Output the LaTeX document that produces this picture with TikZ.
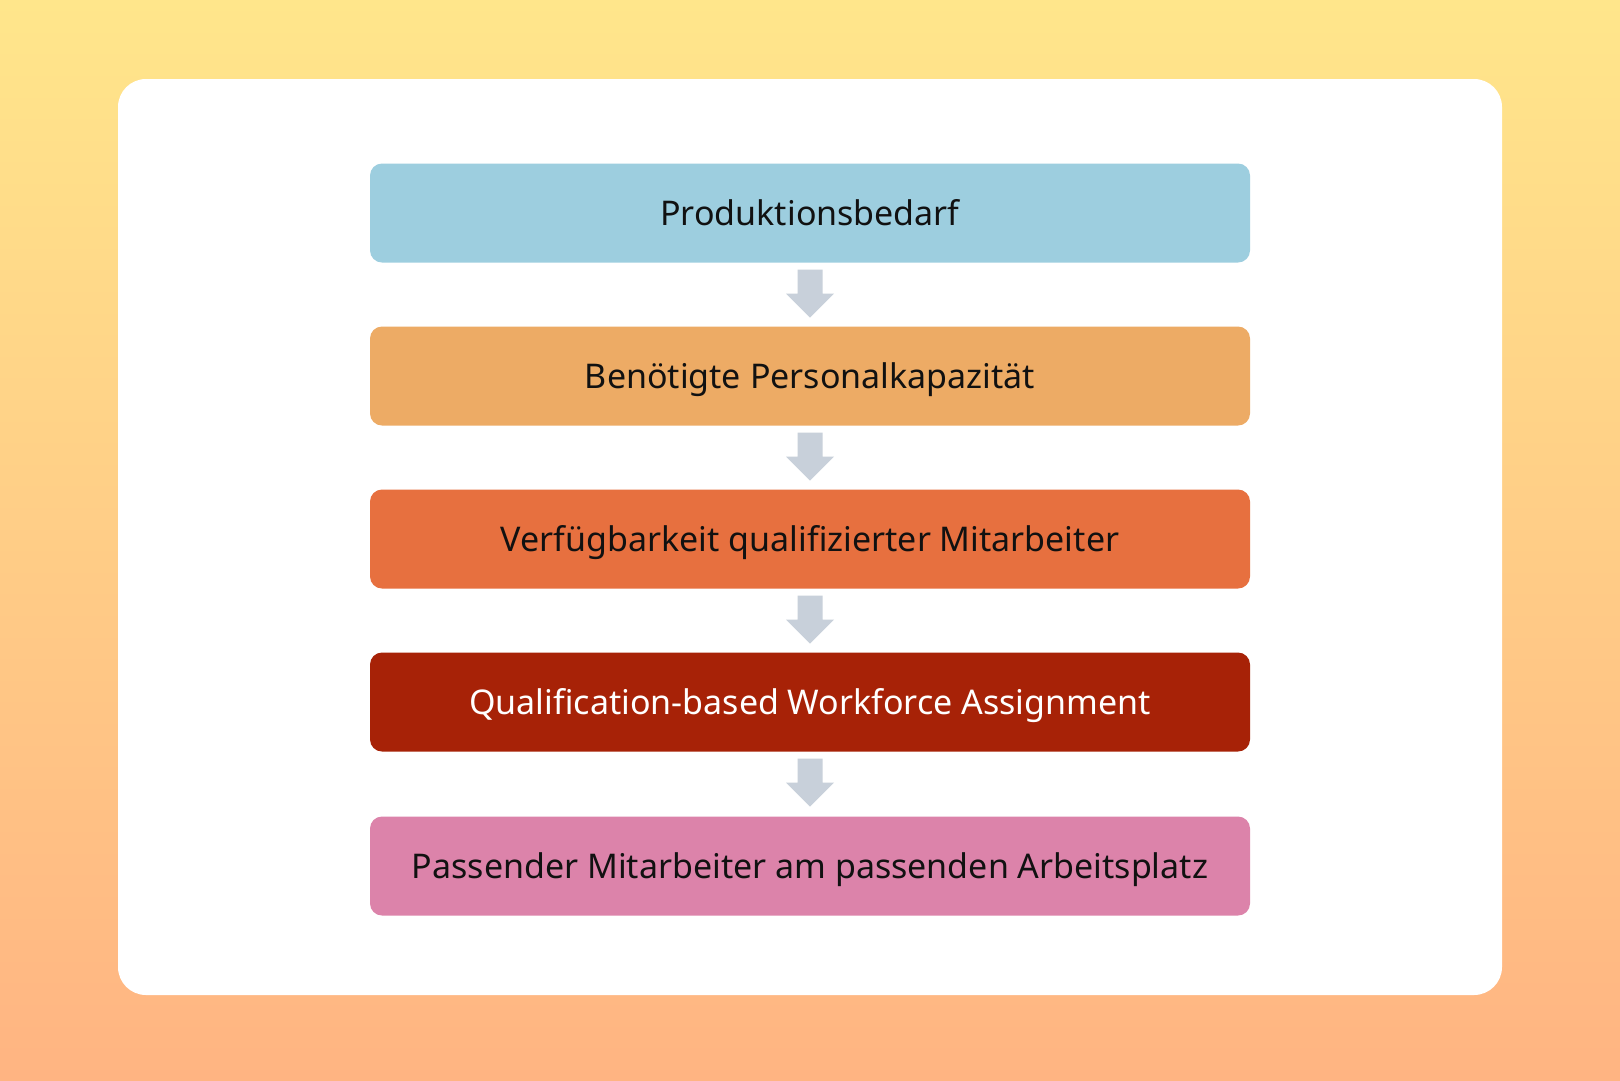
\documentclass[tikz,border=0pt]{standalone}
\usepackage{fontspec}
\setmainfont{Noto Sans}
\definecolor{bgtop}{RGB}{255,230,139}
\definecolor{bgbot}{RGB}{255,180,130}
\definecolor{cblue}{RGB}{157,206,223}
\definecolor{corange}{RGB}{237,171,101}
\definecolor{cred}{RGB}{231,112,63}
\definecolor{cdark}{RGB}{167,34,7}
\definecolor{cpink}{RGB}{220,131,170}
\definecolor{carrow}{RGB}{200,208,218}
\definecolor{ctext}{RGB}{17,17,17}
\tikzset{
  stepbox/.style={rectangle, rounded corners=12pt, minimum width=880pt, minimum height=99pt,
    inner sep=0pt, font=\fontsize{34}{41}\selectfont, text=ctext,
    text height=24.3pt, text depth=0pt},
}
\begin{document}
\begin{tikzpicture}[x=1pt,y=-1pt]
\useasboundingbox (0,0) rectangle (1620,1080);
\shade[top color=bgtop, bottom color=bgbot] (0,0) rectangle (1620,1080);
\fill[white, rounded corners=28pt] (118,79) rectangle (1502,995);
\node[stepbox, fill=cblue] (b1) at (810,213) {Produktionsbedarf};
\node[stepbox, fill=corange] (b2) at (810,376) {Benötigte Personalkapazität};
\node[stepbox, fill=cred] (b3) at (810,539) {Verfügbarkeit qualifizierter Mitarbeiter};
\node[stepbox, fill=cdark, text=white] (b4) at (810,702) {Qualification-based Workforce Assignment};
\node[stepbox, fill=cpink] (b5) at (810,866) {Passender Mitarbeiter am passenden Arbeitsplatz};
\foreach \a/\b in {b1/b2,b2/b3,b3/b4,b4/b5}{
  \path (\a.south) ++(0,7) coordinate (s);
  \fill[carrow] (s) ++(-12.5,0) -- ++(25,0) -- ++(0,24) -- ++(11.5,0) -- ++(-24,24) -- ++(-24,-24) -- ++(11.5,0) -- cycle;
}
\end{tikzpicture}
\end{document}
